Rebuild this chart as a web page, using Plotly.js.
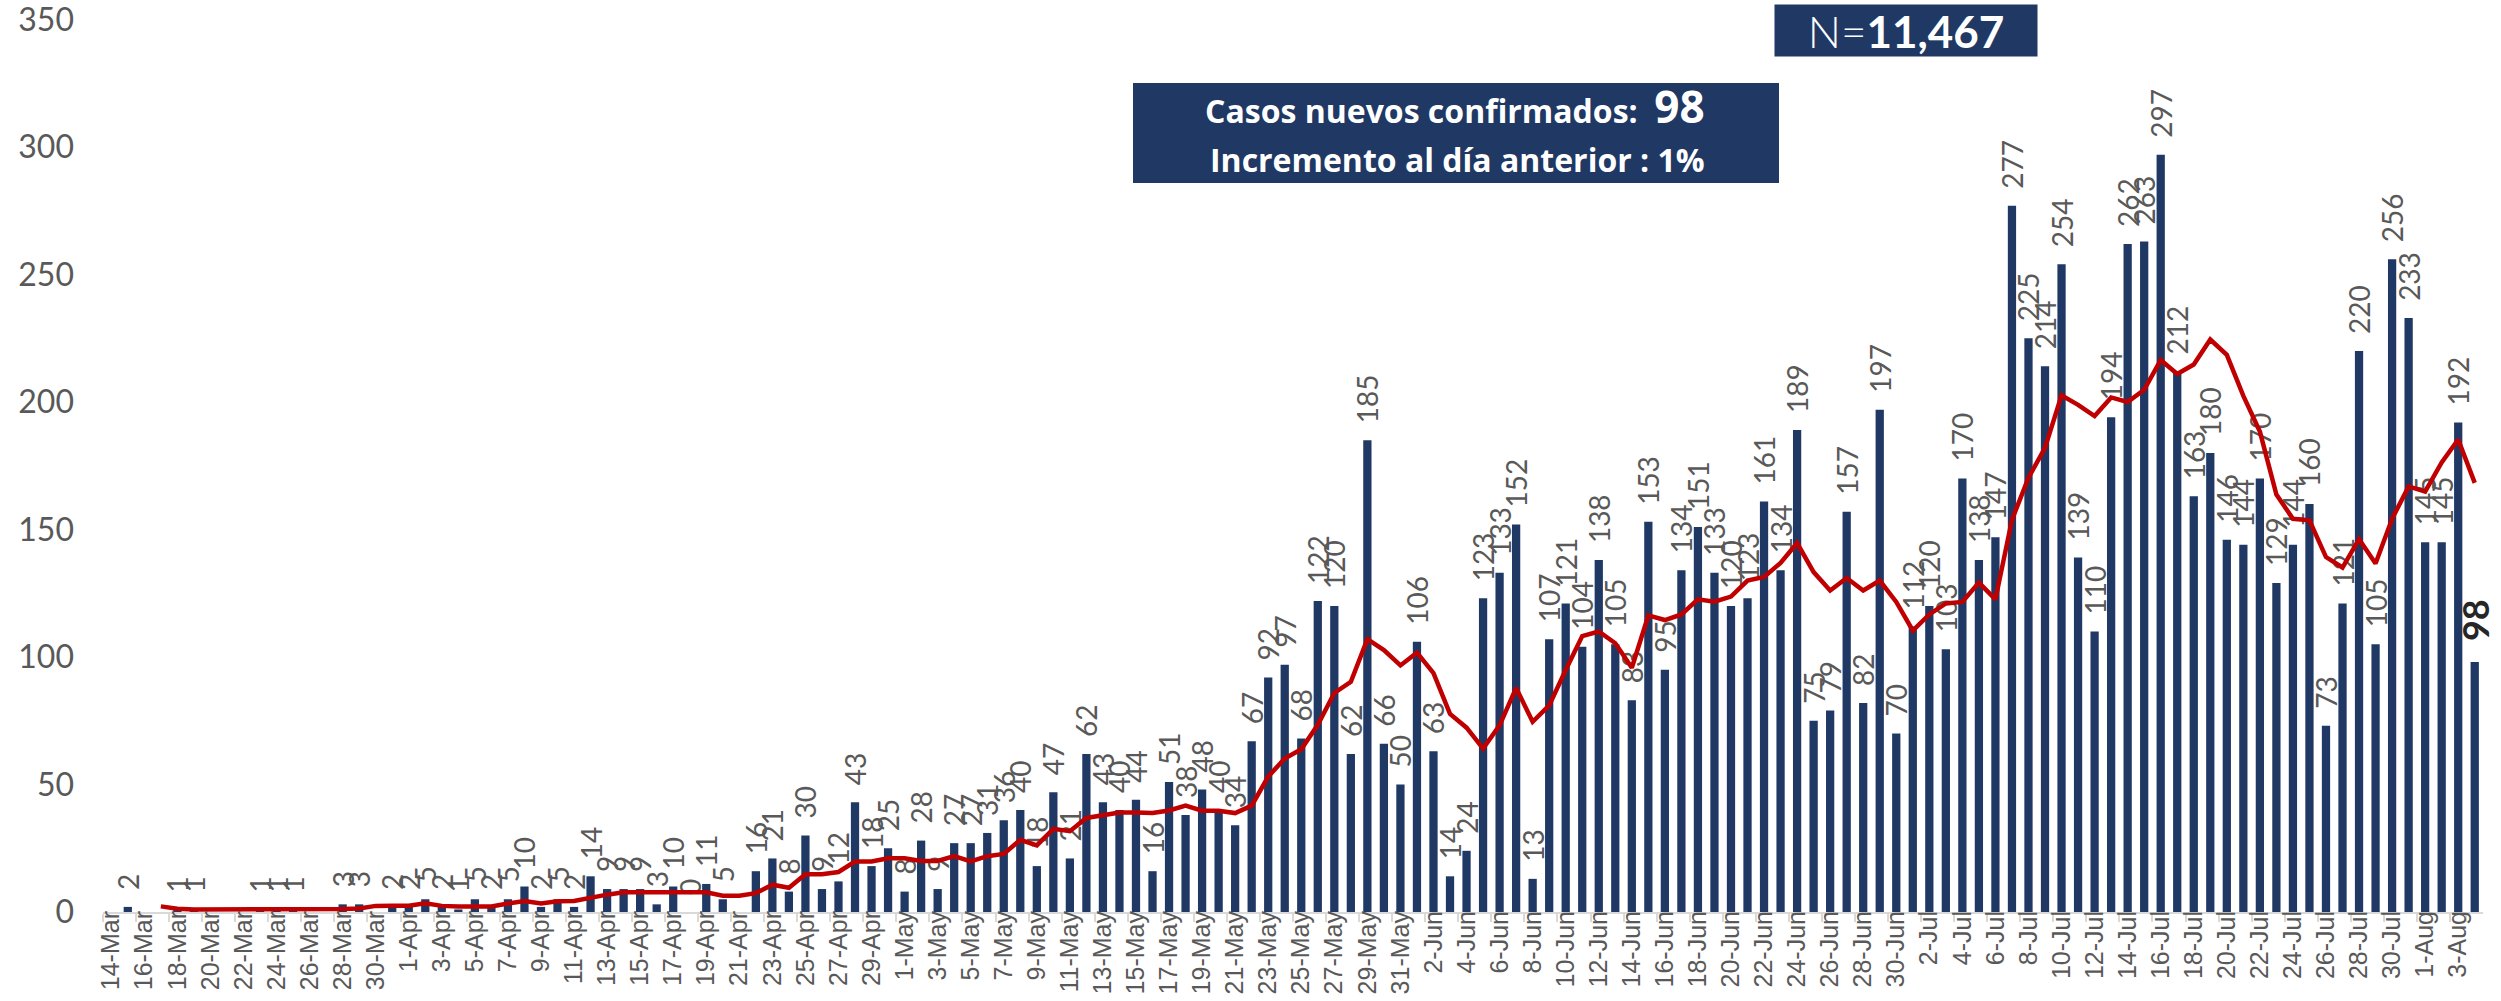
<!DOCTYPE html>
<html>
<head>
<meta charset="utf-8">
<script src="https://cdn.plot.ly/plotly-3.0.1.min.js"></script>
<style>html,body{margin:0;padding:0;background:#fff;}#chart{width:2501px;height:1001px;}</style>
</head>
<body>
<div id="chart"></div>
<script>
// Categories (one per day)
const dates = [
"14-Mar","15-Mar","16-Mar","17-Mar","18-Mar","19-Mar","20-Mar","21-Mar","22-Mar","23-Mar","24-Mar","25-Mar","26-Mar","27-Mar","28-Mar","29-Mar","30-Mar","31-Mar",
"1-Apr","2-Apr","3-Apr","4-Apr","5-Apr","6-Apr","7-Apr","8-Apr","9-Apr","10-Apr","11-Apr","12-Apr","13-Apr","14-Apr","15-Apr","16-Apr","17-Apr","18-Apr","19-Apr","20-Apr","21-Apr","22-Apr","23-Apr","24-Apr","25-Apr","26-Apr","27-Apr","28-Apr","29-Apr","30-Apr",
"1-May","2-May","3-May","4-May","5-May","6-May","7-May","8-May","9-May","10-May","11-May","12-May","13-May","14-May","15-May","16-May","17-May","18-May","19-May","20-May","21-May","22-May","23-May","24-May","25-May","26-May","27-May","28-May","29-May","30-May","31-May",
"1-Jun","2-Jun","3-Jun","4-Jun","5-Jun","6-Jun","7-Jun","8-Jun","9-Jun","10-Jun","11-Jun","12-Jun","13-Jun","14-Jun","15-Jun","16-Jun","17-Jun","18-Jun","19-Jun","20-Jun","21-Jun","22-Jun","23-Jun","24-Jun","25-Jun","26-Jun","27-Jun","28-Jun","29-Jun","30-Jun",
"1-Jul","2-Jul","3-Jul","4-Jul","5-Jul","6-Jul","7-Jul","8-Jul","9-Jul","10-Jul","11-Jul","12-Jul","13-Jul","14-Jul","15-Jul","16-Jul","17-Jul","18-Jul","19-Jul","20-Jul","21-Jul","22-Jul","23-Jul","24-Jul","25-Jul","26-Jul","27-Jul","28-Jul","29-Jul","30-Jul","31-Jul",
"1-Aug","2-Aug","3-Aug","4-Aug"
];

// Daily new confirmed cases (null = no bar / no label)
const newCases = [
null,2,null,null,1,1,null,null,null,1,1,1,null,null,3,3,null,2,
2,5,2,1,5,2,5,10,2,5,2,14,9,9,9,3,10,0,11,5,null,16,21,8,30,9,12,43,18,25,
8,28,9,27,27,31,36,40,18,47,21,62,43,40,44,16,51,38,48,40,34,67,92,97,68,122,120,62,185,66,50,
106,63,14,24,123,133,152,13,107,121,104,138,105,83,153,95,134,151,133,120,123,161,134,189,75,79,157,82,197,70,
112,120,103,170,138,147,277,225,214,254,139,110,194,262,263,297,212,163,180,146,144,170,129,144,160,73,121,220,105,256,233,
145,145,192,98
];

// Trend line
const trendLine = [
null,null,null,2.2,1.3,1.0,1.0,0.9,0.8,0.8,0.8,0.8,0.8,0.9,1.2,1.4,2.4,2.5,
2.5,3.4,2.4,2.2,2.2,2.2,3.3,4.3,3.3,4.2,4.3,5.6,6.8,7.7,7.7,7.7,7.7,7.7,7.7,6.4,6.4,7.4,10.7,9.5,14.8,14.8,15.7,19.8,19.8,21.1,
21.1,20,20,21.9,19.8,21.9,22.8,28.3,26.1,32.6,31.7,36.9,37.9,39,39,38.8,39.8,41.7,39.7,39.7,38.8,41.7,53.1,60.2,63.8,73.4,85.9,90.3,107,102.7,96.7,
101.7,93.7,77.7,72.3,64.1,73.2,87.9,74.6,81,94.9,108.2,110,105.4,95.8,116.3,114.5,116.7,122.6,121.7,123.7,130,131.4,136.9,144.7,133.3,126.1,131,126.1,130,121.6,
110.4,116.7,121,121.6,129.2,122.6,153.8,170.3,182,202.6,198.9,194.5,201.8,200,204.8,216.5,211,214.7,224.5,218.5,202.4,188.4,163.7,154.2,153.6,139.2,135.1,146.2,136.7,154.2,166.9,
164.9,176.3,185.3,168.3
];

// Tick labels
const tickLabels = dates.filter((d, i) => i % 2 === 0);
const yTicks = [0, 50, 100, 150, 200, 250, 300, 350];

const totalText = "11,467";
const newToday = "98";
const increment = "1%";

const lastIdx = newCases.length - 1;
const GAP = "\u2002"; // spacing between bar top and its rotated label
const barText = newCases.map((v, i) => v === null ? "" : (i === lastIdx ? GAP + "<b>" + v + "</b>" : GAP + v));
const barTextSize = newCases.map((v, i) => i === lastIdx ? 36 : 28);
const barTextColor = newCases.map((v, i) => i === lastIdx ? "#262626" : "#595959");

const bars = {
  type: "bar",
  x: dates,
  y: newCases,
  marker: {color: "#203864"},
  text: barText,
  textposition: "outside",
  textangle: -90,
  textfont: {family: "Lato, Open Sans, sans-serif", size: barTextSize, color: barTextColor},
  cliponaxis: false,
  constraintext: "none",
  hoverinfo: "x+y",
  showlegend: false
};

const line = {
  type: "scatter",
  mode: "lines",
  x: dates,
  y: trendLine,
  line: {color: "#C00000", width: 4.5},
  connectgaps: false,
  hoverinfo: "x+y",
  showlegend: false
};

const W = 2501, H = 1001;
const mL = 103, mR = 18, mT = 17, mB = 89;
const pw = W - mL - mR, ph = H - mT - mB;
const px = x => (x - mL) / pw;
const py = y => (H - mB - y) / ph;

const boxFont = "Open Sans, Lato, sans-serif";

const layout = {
  width: W, height: H,
  margin: {l: mL, r: mR, t: mT, b: mB, pad: 0},
  paper_bgcolor: "#ffffff",
  plot_bgcolor: "#ffffff",
  bargap: 0.5,
  xaxis: {
    type: "category",
    range: [-0.5, dates.length - 0.5],
    tickmode: "array",
    tickvals: tickLabels,
    ticktext: tickLabels,
    tickson: "boundaries",
    ticks: "outside",
    ticklen: 8,
    tickwidth: 2,
    tickcolor: "#d9d9d9",
    showline: true,
    linecolor: "#d9d9d9",
    linewidth: 2,
    showgrid: false,
    tickangle: -90,
    ticklabelstandoff: -13,
    ticklabeloverflow: "allow",
    tickfont: {family: "Liberation Sans, Arial, sans-serif", size: 25, color: "#595959"},
    fixedrange: true
  },
  yaxis: {
    range: [0, 351],
    tickmode: "array",
    tickvals: yTicks,
    showgrid: false,
    zeroline: false,
    showline: false,
    ticks: "",
    ticklabelstandoff: 28,
    ticklabeloverflow: "allow",
    tickfont: {family: "Lato, Open Sans, sans-serif", size: 32, color: "#595959"},
    fixedrange: true
  },
  shapes: [
    {
      type: "rect", xref: "paper", yref: "paper",
      x0: px(1133), x1: px(1779), y0: py(183), y1: py(83),
      fillcolor: "#203864", line: {width: 0}, layer: "above"
    }
  ],
  annotations: [
    {
      xref: "paper", yref: "paper",
      x: px(1906), y: py(30.5), xanchor: "center", yanchor: "middle",
      width: 262, height: 51, borderpad: 0,
      bgcolor: "#203864",
      showarrow: false,
      text: "<span style='font-weight:300'>N=</span><b>" + totalText + "</b>",
      font: {family: "Lato, Open Sans, sans-serif", size: 44, color: "#ffffff"}
    },
    {
      xref: "paper", yref: "paper",
      x: px(1455), y: py(106), xanchor: "center", yanchor: "middle",
      showarrow: false,
      text: "<b>Casos nuevos confirmados:\u00A0\u00A0<span style='font-size:44px'>" + newToday + "</span></b>",
      font: {family: boxFont, size: 32, color: "#ffffff"}
    },
    {
      xref: "paper", yref: "paper",
      x: px(1457), y: py(159), xanchor: "center", yanchor: "middle",
      showarrow: false,
      text: "<b>Incremento al día anterior : " + increment + "</b>",
      font: {family: boxFont, size: 32, color: "#ffffff"}
    }
  ]
};

Plotly.newPlot("chart", [bars, line], layout, {displayModeBar: false});
</script>
</body>
</html>
